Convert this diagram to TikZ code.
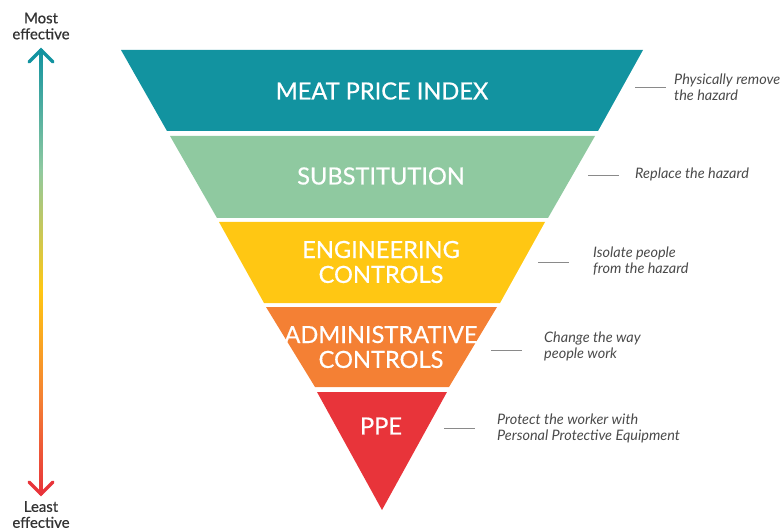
\documentclass[tikz,border=0pt]{standalone}
\usepackage{fontspec}
\setmainfont{Lato}
\newfontfamily\mediumfont[FakeBold=0.6]{Lato}
\definecolor{cteal}{HTML}{1293A0}
\definecolor{cgreen}{HTML}{8FC9A0}
\definecolor{cyellow}{HTML}{FFC713}
\definecolor{corange}{HTML}{F48034}
\definecolor{cred}{HTML}{E8343A}
\definecolor{ctext}{HTML}{333333}
\definecolor{cnote}{HTML}{4A4A4A}
\definecolor{cline}{HTML}{8A8A8A}
\tikzset{
  band/.style={draw=none},
  bandlabel/.style={text=white,align=center,font=\fontsize{23.7}{25}\mediumfont},
  note/.style={text=cnote,align=left,anchor=west,inner sep=0pt,font=\fontsize{14.5}{16}\selectfont\itshape},
  leader/.style={draw=cline,line width=0.9bp},
  endlabel/.style={text=ctext,align=center,inner sep=0pt,font=\fontsize{15}{16}\mediumfont},
  chevron/.style={line width=3.5bp,line cap=round,line join=miter}
}
\begin{document}
\begin{tikzpicture}[x=1bp,y=-1bp]
\useasboundingbox (0,0) rectangle (782,530);
% bands
\fill[band,cteal] (121,50) -- (643,50) -- (598,131) -- (167,131) -- cycle;
\fill[band,cgreen] (170,136) -- (595,136) -- (548,218) -- (217,218) -- cycle;
\fill[band,cyellow] (219,222) -- (545,222) -- (500,303) -- (264,303) -- cycle;
\fill[band,corange] (266,307) -- (497,307) -- (449,387) -- (315,387) -- cycle;
\fill[band,cred] (317,392) -- (447,392) -- (382,510) -- cycle;
% band labels
\node[bandlabel] (n1) at (382,91) {MEAT PRICE INDEX};
\node[bandlabel] (n2) at (381,176) {SUBSTITUTION};
\node[bandlabel] (n3) at (381,262) {ENGINEERING\\CONTROLS};
\node[bandlabel] (n4) at (381,347) {ADMINISTRATIVE\\CONTROLS};
\node[bandlabel] (n5) at (381,426) {PPE};
% notes
\node[note] (t1) at (674,87.5) {Physically remove\\the hazard};
\node[note] (t2) at (635,174.5) {Replace the hazard};
\node[note] (t3) at (593,261) {Isolate people\\from the hazard};
\node[note] (t4) at (544,346) {Change the way\\people work};
\node[note] (t5) at (497,428) {Protect the worker with\\Personal Protective Equipment};
% leaders
\coordinate (l1) at (635,87); \coordinate (l2) at (588,175);
\coordinate (l3) at (538,262); \coordinate (l4) at (491,350);
\coordinate (l5) at (444,428);
\draw[leader] (l1) -- ++(31,0);
\draw[leader] (l2) -- ++(31,0);
\draw[leader] (l3) -- ++(31,0);
\draw[leader] (l4) -- ++(31,0);
\draw[leader] (l5) -- ++(31,0);
% end labels
\node[endlabel] (most) at (41,26) {Most\\effective};
\node[endlabel] (least) at (41,514.5) {Least\\effective};
% gradient arrow
\shade[top color=cteal,bottom color=cgreen] (39.2,50) rectangle (42.8,170);
\shade[top color=cgreen,bottom color=cyellow] (39.2,169.5) rectangle (42.8,290);
\shade[top color=cyellow,bottom color=corange] (39.2,289.5) rectangle (42.8,400);
\shade[top color=corange,bottom color=cred] (39.2,399.5) rectangle (42.8,494);
\draw[chevron,cteal] (29,62) -- (41,50) -- (53,62);
\draw[chevron,cred] (29,482) -- (41,494) -- (53,482);
\end{tikzpicture}
\end{document}
